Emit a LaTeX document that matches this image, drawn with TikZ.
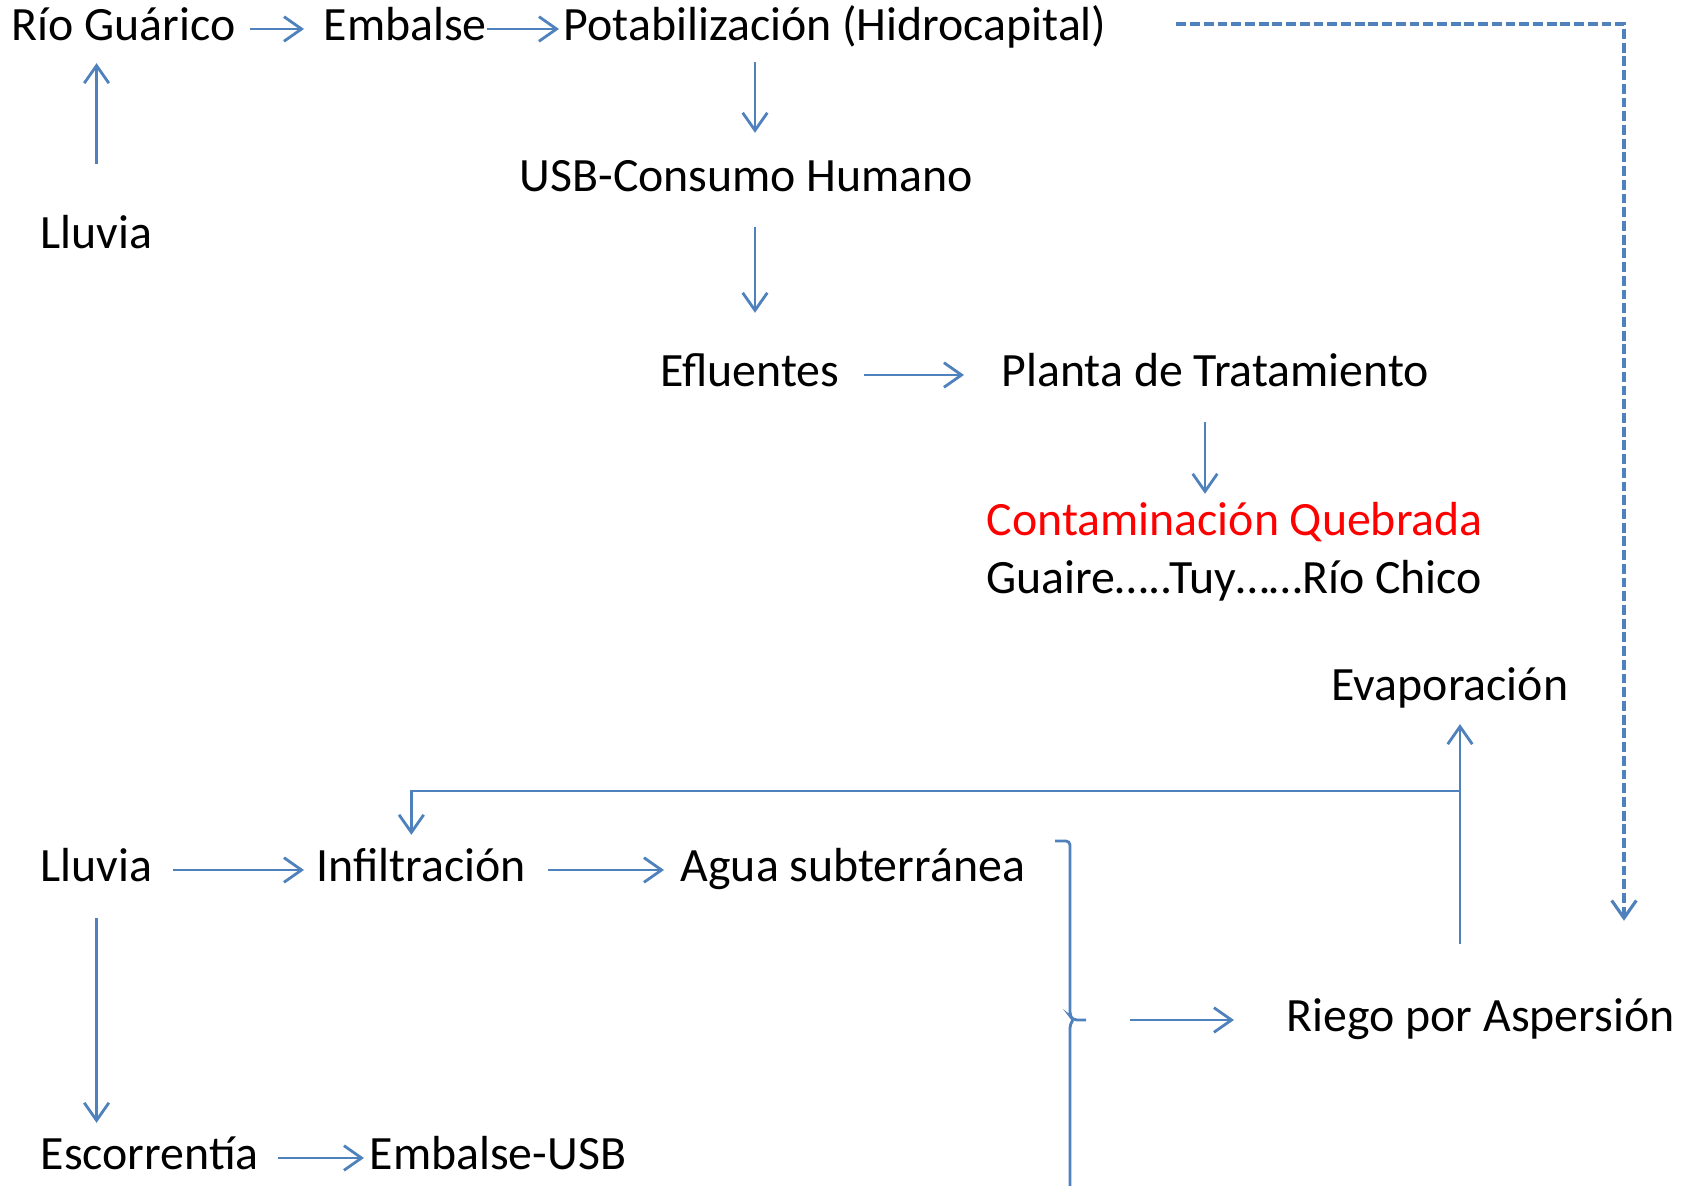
\documentclass[tikz,border=0pt]{standalone}
\usepackage{fontspec}
\setmainfont{Carlito}
\usetikzlibrary{positioning, arrows.meta}
\definecolor{flowblue}{RGB}{79, 129, 189}
\definecolor{alertred}{RGB}{255, 0, 0}

\begin{document}
\begin{tikzpicture}[x = 0.01cm, y = -0.01cm,
  term/.style = {anchor = west, inner sep = 0pt, text height = 9.5pt, text depth = 2.7pt, font = \fontsize{13.6pt}{16pt}\selectfont},
  flow/.style = {draw = flowblue, line width = 0.8pt, -{Straight Barb[length = 5pt, width = 7pt]}},
  dashflow/.style = {flow, line width = 0.9pt, dash pattern = on 2.8pt off 1.1pt},
  bracket/.style = {draw = flowblue, line width = 0.8pt}]
  \useasboundingbox (0, 0) rectangle (1687, 1186);

  % nodes
  \node [term] (rio) at (11, 29) {Río Guárico};
  \node [term] (emb) at (323, 29) {Embalse};
  \node [term] (pot) at (563, 29) {Potabilización (Hidrocapital)};
  \node [term] (lluvia_top) at (40, 237) {Lluvia};
  \node [term] (usb) at (519, 180) {USB-Consumo Humano};
  \node [term] (efl) at (660, 375) {Efluentes};
  \node [term] (planta) at (1001, 375) {Planta de Tratamiento};
  \node [term, text = alertred] (contam) at (986, 524) {Contaminación Quebrada};
  \node [term] (guaire) at (986, 582) {Guaire…..Tuy……Río Chico};
  \node [term] (evap) at (1331, 689) {Evaporación};
  \node [term] (lluvia_low) at (40, 870) {Lluvia};
  \node [term] (infil) at (316, 870) {Infiltración};
  \node [term] (agua) at (680, 870) {Agua subterránea};
  \node [term] (riego) at (1286, 1020) {Riego por Aspersión};
  \node [term] (escorr) at (40, 1158) {Escorrentía};
  \node [term] (embusb) at (369, 1158) {Embalse-USB};

  \coordinate (trunk) at (755, 0);
  \coordinate (drain) at (1205, 0);
  \coordinate (split) at (1460, 791);
  \coordinate (dropx) at (1624, 0);
  \coordinate (bracetip) at (1086, 1020);

  % edges
  \draw [flow, shorten <= 0.14cm, shorten >= 0.19cm] (rio.east) -- (emb.west);
  \draw [flow, shorten >= 0.04cm] (emb.east) -- (pot.west);
  \draw [flow, shorten <= 0.51cm, shorten >= 0.12cm] (lluvia_top.north) -- (lluvia_top.north |- rio.south);
  \draw [flow, shorten <= 0.11cm, shorten >= 0.25cm] (trunk |- pot.south) -- (trunk |- usb.north);
  \draw [flow, shorten <= 0.25cm, shorten >= 0.40cm] (trunk |- usb.south) -- (trunk |- efl.north);
  \draw [flow, shorten <= 0.24cm, shorten >= 0.37cm] (efl.east) -- (planta.west);
  \draw [flow, shorten <= 0.25cm, shorten >= 0.08cm] (drain |- planta.south) -- (drain |- contam.north);
  \draw [dashflow, shorten <= 0.69cm, shorten >= 0.77cm] ([yshift = 0.05cm]pot.east) -| (dropx |- riego.north);

  \draw [flow, shorten <= 0.54cm, shorten >= 0.13cm] (split |- riego.north) -- (split |- evap.south);
  \draw [flow, shorten >= 0.13cm] (split) -| ([xshift = -0.1cm]infil.north);

  \draw [flow, shorten <= 0.20cm, shorten >= 0.12cm] (lluvia_low.east) -- (infil.west);
  \draw [flow, shorten <= 0.21cm, shorten >= 0.16cm] (infil.east) -- (agua.west);
  \draw [flow, shorten <= 0.26cm, shorten >= 0.13cm] (lluvia_low.south) -- (lluvia_low.south |- escorr.north);
  \draw [flow, shorten <= 0.19cm, shorten >= 0.05cm] (escorr.east) -- (embusb.west);

  % bracket
  \draw [bracket, rounded corners = 0.04cm] (1055, 841) -- (1070, 841) -- (1070, 1016) -- (1073, 1020) -- (bracetip);
  \draw [bracket, rounded corners = 0.04cm] (1073, 1020) -- (1070, 1024) -- (1070, 1195);
  \draw [flow, shorten <= 0.44cm, shorten >= 0.52cm] (bracetip) -- (riego.west);
\end{tikzpicture}
\end{document}
